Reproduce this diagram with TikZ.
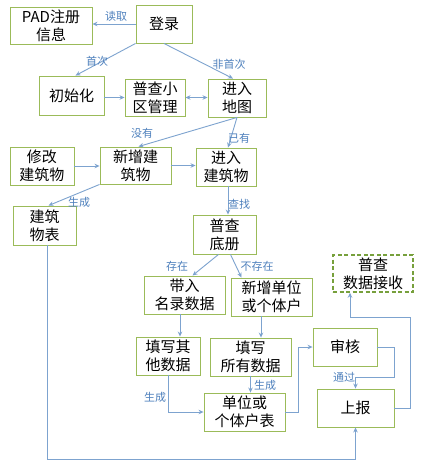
\documentclass[tikz,border=0pt]{standalone}
\usepackage{fontspec}
\setmainfont{Noto Sans CJK SC}
\usetikzlibrary{arrows.meta}
\definecolor{boxgreen}{RGB}{155,187,89}
\definecolor{dashgreen}{RGB}{119,160,60}
\definecolor{arrowblue}{RGB}{125,163,207}
\definecolor{labelblue}{RGB}{79,129,189}
\begin{document}
\begin{tikzpicture}[x=1pt,y=-1pt,
  box/.style={draw=boxgreen, line width=0.9pt, minimum height=38pt, inner sep=0pt,
    align=center, font=\fontsize{15}{18}\selectfont},
  dbox/.style={draw=dashgreen, line width=1.5pt, dash pattern=on 4pt off 2.5pt, minimum height=37pt,
    inner sep=0pt, align=center, font=\fontsize{15}{18}\selectfont},
  lbl/.style={text=labelblue, inner sep=0pt, font=\fontsize{11}{13}\selectfont},
  conn/.style={draw=arrowblue, line width=0.9pt, -{Stealth[length=5pt,width=4.5pt]}},
  dconn/.style={draw=arrowblue, line width=0.9pt, {Stealth[length=5pt,width=4.5pt]}-{Stealth[length=5pt,width=4.5pt]}}
]
\useasboundingbox (0,0) rectangle (425,469);
\fill[white] (0,0) rectangle (425,469);

% nodes
\node[box, minimum width=82pt, minimum height=37pt] (pad) at (51,25.5) {PAD注册\\信息};
\node[box, minimum width=56pt] (login) at (164,24) {登录};
\node[box, minimum width=65pt, minimum height=39pt] (init) at (71.5,95.5) {初始化};
\node[box, minimum width=60pt, minimum height=37pt] (mgmt) at (155,97.5) {普查小\\区管理};
\node[box, minimum width=58pt] (map) at (237,98) {进入\\地图};
\node[box, minimum width=64pt] (modb) at (42,166) {修改\\建筑物};
\node[box, minimum width=71pt, minimum height=37pt] (newb) at (135.5,165.5) {新增建\\筑物};
\node[box, minimum width=60pt] (enterb) at (226,167) {进入\\建筑物};
\node[box, minimum width=63pt, minimum height=39pt] (btable) at (44.5,225.5) {建筑\\物表};
\node[box, minimum width=63pt, minimum height=39pt] (ledger) at (224.5,234.5) {普查\\底册};
\node[box, minimum width=81pt] (bring) at (184.5,295) {带入\\名录数据};
\node[box, minimum width=81pt] (newunit) at (271.5,297) {新增单位\\或个体户};
\node[dbox, minimum width=80pt] (recv) at (373,273.5) {普查\\数据接收};
\node[box, minimum width=64pt] (fillo) at (168,356) {填写其\\他数据};
\node[box, minimum width=81pt] (filla) at (250.5,357) {填写\\所有数据};
\node[box, minimum width=64pt] (audit) at (345,347) {审核};
\node[box, minimum width=81pt] (utable) at (244.5,412) {单位或\\个体户表};
\node[box, minimum width=77pt] (report) at (355.5,408) {上报};

% connectors
\draw[conn] (login.west) -- (login.west -| pad.east);
\draw[conn] (login.south west) -- ([xshift=4pt]init.north);
\draw[conn] (login.south) -- ([xshift=-4pt]map.north);
\draw[conn] (mgmt.west -| init.east) -- (mgmt.west);
\draw[dconn] (mgmt.east) -- (mgmt.east -| map.west);
\draw[conn] (map.south) -- ([xshift=3pt]newb.north);
\draw[conn] (map.south) -- ([xshift=2pt]enterb.north);
\draw[conn] (modb.east) -- (modb.east -| newb.west);
\draw[conn] (newb.east) -- (newb.east -| enterb.west);
\draw[conn] (newb.south west) -- ([xshift=4pt]btable.north);
\draw[conn] ([xshift=2pt]enterb.south) -- ([xshift=2pt]enterb.south |- ledger.north);
\draw[conn] ([xshift=-6pt]ledger.south) -- ([xshift=8pt]bring.north);
\draw[conn] ([xshift=6pt]ledger.south) -- ([xshift=-30pt]newunit.north);
\draw[conn] ([xshift=-4.5pt]bring.south) -- ([xshift=-4.5pt]bring.south |- fillo.north);
\draw[conn] ([xshift=-10.5pt]newunit.south) -- ([xshift=-10.5pt]newunit.south |- filla.north);
\draw[conn] (fillo.south) |- (utable.west);
\draw[conn] (filla.south) -- (filla.south |- utable.north);
\draw[conn] (utable.east) -- ++(13,0) |- (audit.west);
\draw[conn] (audit.east) -- ++(17,0) |- ([yshift=11pt]report.north) -- (report.north);
\draw[conn] (report.east) -- ++(16,0) |- ([xshift=-23pt,yshift=-25pt]recv.south) -- ([xshift=-23pt]recv.south);
\draw[conn] ([xshift=2.5pt]btable.south) -- ++(0,214) -| (report.south);

% labels
\node[lbl] (l1) at (116,16) {读取};
\node[lbl] (l2) at (97,61) {首次};
\node[lbl] (l3) at (229,64) {非首次};
\node[lbl] (l4) at (142,133) {没有};
\node[lbl] (l5) at (239,138) {已有};
\node[lbl] (l6) at (79,202) {生成};
\node[lbl] (l7) at (239,204) {查找};
\node[lbl] (l8) at (177,266) {存在};
\node[lbl] (l9) at (257,266) {不存在};
\node[lbl] (l10) at (155,397) {生成};
\node[lbl] (l11) at (265,385) {生成};
\node[lbl] (l12) at (344,377) {通过};
\end{tikzpicture}
\end{document}
